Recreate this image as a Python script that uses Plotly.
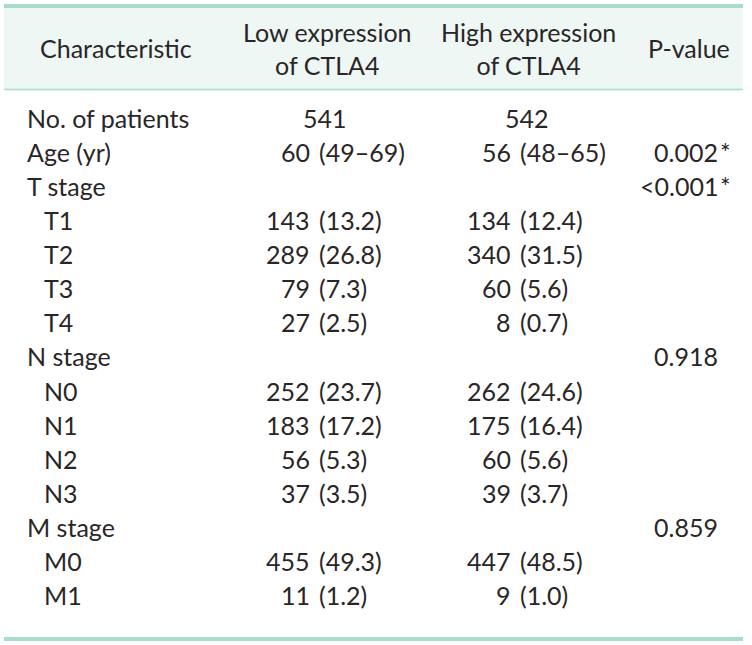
import plotly.graph_objects as go

# ---- data ----
header_cols = ["Characteristic", "Low expression<br>of CTLA4", "High expression<br>of CTLA4", "P-value"]
labels = ["No. of patients", "Age (yr)", "T stage", "T1", "T2", "T3", "T4",
          "N stage", "N0", "N1", "N2", "N3", "M stage", "M0", "M1"]
indent = [0, 0, 0, 1, 1, 1, 1, 0, 1, 1, 1, 1, 0, 1, 1]
low_n = ["541", "60", "", "143", "289", "79", "27", "", "252", "183", "56", "37", "", "455", "11"]
low_pct = ["", "(49–69)", "", "(13.2)", "(26.8)", "(7.3)", "(2.5)", "", "(23.7)", "(17.2)", "(5.3)", "(3.5)", "", "(49.3)", "(1.2)"]
high_n = ["542", "56", "", "134", "340", "60", "8", "", "262", "175", "60", "39", "", "447", "9"]
high_pct = ["", "(48–65)", "", "(12.4)", "(31.5)", "(5.6)", "(0.7)", "", "(24.6)", "(16.4)", "(5.6)", "(3.7)", "", "(48.5)", "(1.0)"]
pvals = ["", "0.002*", "<0.001*", "", "", "", "", "0.918", "", "", "", "", "0.859", "", ""]

# ---- layout constants ----
W, H = 752, 645
FONT = "Lato"
FS = 25
TXT = "#2a2627"
LINE = "#a9dccb"
HDR_BG = "#eef7f4"
row0, dy = 118, 34.07
label_x = [26, 43]
low_split, low_gap, low_center = 311, 318, 325
high_split, high_gap, high_center = 512, 519, 527
p_split = 719
head_y = 48
head_x = [116, 327, 528, 689]

fig = go.Figure()
fig.add_trace(go.Scatter(x=[0], y=[0], mode="markers", marker=dict(opacity=0), hoverinfo="skip", showlegend=False))

shapes = [
    dict(type="rect", x0=4, x1=743, y0=8, y1=89, fillcolor=HDR_BG, line=dict(width=0), layer="below"),
    dict(type="line", x0=4, x1=743, y0=6, y1=6, line=dict(color=LINE, width=4)),
    dict(type="line", x0=4, x1=743, y0=89.5, y1=89.5, line=dict(color=LINE, width=1.5)),
    dict(type="line", x0=4, x1=743, y0=639, y1=639, line=dict(color=LINE, width=4)),
]

ann = []
def add(text, x, y, xa):
    ann.append(dict(text=text, x=x, y=y, xref="x", yref="y", xanchor=xa, yanchor="middle",
                    showarrow=False, font=dict(family=FONT, size=FS, color=TXT), borderpad=0))

for t, hx in zip(header_cols, head_x):
    add(t, hx, head_y, "center")

for i, lab in enumerate(labels):
    y = row0 + i * dy
    add(lab, label_x[indent[i]], y, "left")
    if low_n[i]:
        if low_pct[i]:
            add(low_n[i], low_split, y, "right")
            add(low_pct[i], low_gap, y, "left")
        else:
            add(low_n[i], low_center, y, "center")
    if high_n[i]:
        if high_pct[i]:
            add(high_n[i], high_split, y, "right")
            add(high_pct[i], high_gap, y, "left")
        else:
            add(high_n[i], high_center, y, "center")
    if pvals[i]:
        main = pvals[i].rstrip("*")
        add(main, p_split, y, "right")
        if pvals[i].endswith("*"):
            add("*", p_split, y, "left")

fig.update_layout(
    width=W, height=H, margin=dict(l=0, r=0, t=0, b=0),
    paper_bgcolor="white", plot_bgcolor="white",
    xaxis=dict(range=[0, W], visible=False, fixedrange=True),
    yaxis=dict(range=[H, 0], visible=False, fixedrange=True),
    shapes=shapes, annotations=ann, showlegend=False,
)
fig.write_html("out.html", config={"displayModeBar": False},
               post_script="document.body.style.margin='0';document.body.style.overflow='hidden';")
